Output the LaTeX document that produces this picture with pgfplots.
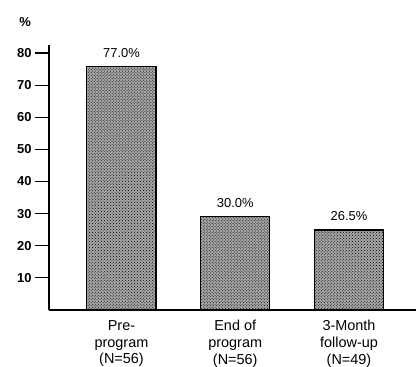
\documentclass[border=0pt]{standalone}
\usepackage{fontspec}
\setmainfont{Liberation Sans}
\usepackage{pgfplots}
\pgfplotsset{compat=1.18}
\usetikzlibrary{patterns}
\begin{document}
\begin{tikzpicture}
\useasboundingbox (-49bp,-57bp) rectangle (367bp,310bp);
\begin{axis}[
  at={(0,0)}, anchor=south west,
  scale only axis, width=367bp, height=265bp,
  xmin=-0.637, xmax=2.589, ymin=0, ymax=82.5,
  axis x line=bottom, axis y line=left,
  axis line style={-, line width=1.1pt},
  ybar, bar width=0.607,
  ytick={10,20,30,40,50,60,70,80},
  ytick align=outside,
  xtick align=inside,
  major tick length=14bp,
  every tick/.style={black, line width=1.1pt},
  /pgf/number format/assume math mode=true,
  yticklabel style={font=\fontsize{13}{15}\bfseries, xshift=0bp},
  xtick={0,1,2},
  xticklabels={{Pre-\\program\\(N=56)},{End of\\program\\(N=56)},{3-Month\\follow-up\\(N=49)}},
  xticklabel style={align=center, font=\fontsize{14.5}{16.8}\selectfont, yshift=-7bp},
  x tick style={draw=none},
  point meta=explicit symbolic,
  nodes near coords={\pgfplotspointmeta},
  nodes near coords style={font=\fontsize{13}{15}\selectfont, anchor=south, inner sep=0pt, yshift=9bp},
  clip=false,
]
\addplot[draw=black, line width=1.1pt, fill=black!35, postaction={pattern=crosshatch dots, pattern color=black}]
  coordinates {(0,75.7) [77.0\%] (1,29.0) [30.0\%] (2,24.9) [26.5\%]};
\node[font=\fontsize{13}{15}\bfseries] at (axis description cs:-0.065,1.087) {\%};
\end{axis}
\end{tikzpicture}
\end{document}
